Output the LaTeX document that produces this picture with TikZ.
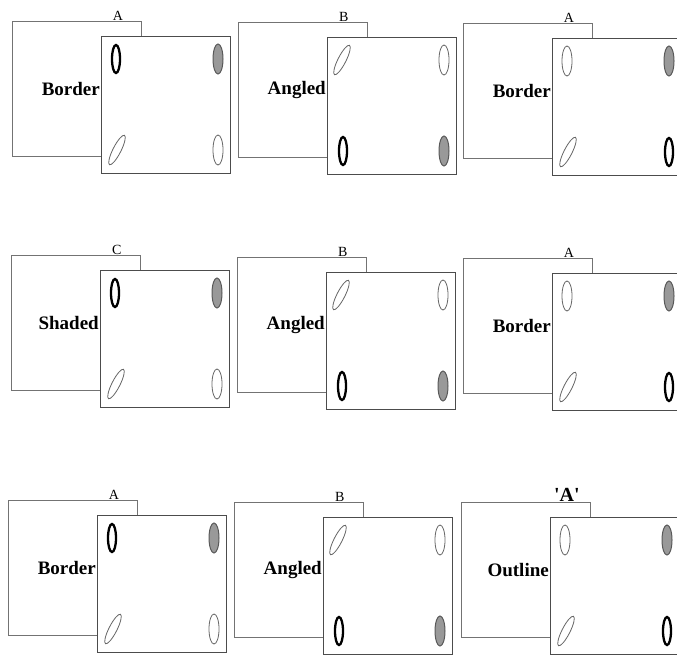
\documentclass[tikz,border=0pt]{standalone}
\usepackage{fontspec}
\setmainfont{Liberation Serif}
\usetikzlibrary{shapes.geometric,positioning}

\begin{document}
\begin{tikzpicture}[
    x=1pt, y=-1pt,
    backcard/.style={rectangle, draw=black!55, line width=0.9pt, fill=white,
                     minimum width=129pt, minimum height=135pt, inner sep=0pt},
    frontcard/.style={rectangle, draw=black!70, line width=0.9pt, fill=white,
                      minimum width=129pt, minimum height=137pt, inner sep=0pt},
    toplbl/.style={font=\fontsize{14}{16}\selectfont, inner sep=0pt},
    sidelbl/.style={font=\fontsize{19}{21}\selectfont\bfseries, inner sep=1pt, anchor=east},
    boldov/.style={ellipse, draw=black, line width=2.3pt, inner sep=0pt,
                   minimum width=8pt, minimum height=28pt},
    greyov/.style={ellipse, draw=black!65, fill=black!40, line width=1pt, inner sep=0pt,
                   minimum width=10pt, minimum height=30pt},
    plainov/.style={ellipse, draw=black!60, line width=0.8pt, inner sep=0pt,
                    minimum width=10pt, minimum height=30pt},
    tiltov/.style={ellipse, draw=black!60, line width=0.8pt, inner sep=0pt,
                   minimum width=8pt, minimum height=33pt, rotate=-27}
]
\useasboundingbox (0,0) rectangle (677,654);
\clip (0,0) rectangle (677,654);

%% -- one panel per entry: corner of back card, four ovals, labels
\foreach \bx/\by/\tl/\tr/\bl/\br/\toptext/\sidetext [count=\i] in {
    12/21/boldov/greyov/tiltov/plainov/A/Border,
    238/22/tiltov/plainov/boldov/greyov/B/Angled,
    463/23/plainov/greyov/tiltov/boldov/A/Border,
    11/255/boldov/greyov/tiltov/plainov/C/Shaded,
    237/257/tiltov/plainov/boldov/greyov/B/Angled,
    463/258/plainov/greyov/tiltov/boldov/A/Border,
    8/500/boldov/greyov/tiltov/plainov/A/Border,
    234/502/tiltov/plainov/boldov/greyov/B/Angled,
    461/502/plainov/greyov/tiltov/boldov/{\fontsize{20}{22}\selectfont\bfseries\textquotesingle A\textquotesingle}/Outline}
{
    \node[backcard, anchor=north west] (back\i) at (\bx,\by) {};
    \node[toplbl, above=0pt of back\i.north east, xshift=-24pt] (top\i) {\toptext};
    \node[frontcard, below right=15pt and 89pt of back\i.north west] (front\i) {};
    \node[sidelbl] (side\i) at (front\i.west |- back\i.east) {\sidetext};

    %% ovals in the four corners of the front card
    \node[\tl] (tl\i) at ([shift={(15,23)}]front\i.north west) {};
    \node[\tr] (tr\i) at ([shift={(117,23)}]front\i.north west) {};
    \node[\bl] (bl\i) at ([shift={(16,114)}]front\i.north west) {};
    \node[\br] (br\i) at ([shift={(117,114)}]front\i.north west) {};
}
\end{tikzpicture}
\end{document}
